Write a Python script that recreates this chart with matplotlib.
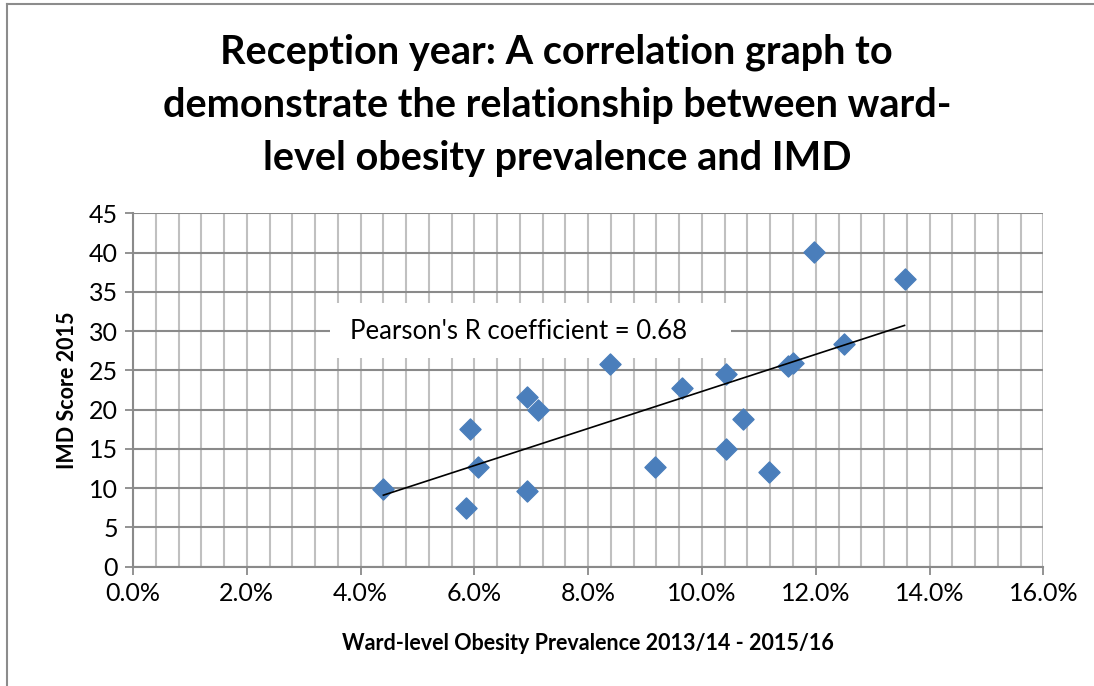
import numpy as np
import matplotlib
matplotlib.use('Agg')
import matplotlib.pyplot as plt
import matplotlib.ticker as mticker
from matplotlib.lines import Line2D
from matplotlib.patches import Rectangle

# ward-level obesity prevalence (%) and IMD score
prevalence = [4.40, 5.85, 5.92, 6.06, 6.92, 6.92, 7.11, 8.38, 9.17, 9.65,
              10.43, 10.43, 10.72, 11.18, 11.51, 11.60, 11.97, 12.50, 13.56]
imd_score = [9.9, 7.5, 17.5, 12.7, 21.6, 9.7, 19.9, 25.8, 12.7, 22.8,
             24.5, 15.0, 18.8, 12.0, 25.5, 26.0, 40.1, 28.4, 36.6]

title = ("Reception year: A correlation graph to\n"
         "demonstrate the relationship between ward-\n"
         "level obesity prevalence and IMD")
pearson_label = "Pearson's R coefficient = 0.68"

plt.rcParams['font.family'] = ['Lato', 'DejaVu Sans']

fig = plt.figure(figsize=(10.94, 6.86), dpi=100, facecolor='white')
fig.patch.set_edgecolor('none')
fig.patch.set_linewidth(0)
ax = fig.add_axes([0.1216, 0.1739, 0.8321, 0.5152])

# chart frame (left and top edges are visible in the crop)
fig.add_artist(Line2D([7/1094, 7/1094], [0, 1 - 4/686], transform=fig.transFigure,
                      color='#8c8c8c', lw=1.5))
fig.add_artist(Line2D([7/1094, 1], [1 - 4/686, 1 - 4/686], transform=fig.transFigure,
                      color='#8c8c8c', lw=1.5))

ax.set_xlim(0, 16)
ax.set_ylim(0, 45)

ax.xaxis.set_major_locator(mticker.MultipleLocator(2))
ax.xaxis.set_minor_locator(mticker.MultipleLocator(0.4))
ax.yaxis.set_major_locator(mticker.MultipleLocator(5))
ax.xaxis.set_major_formatter(mticker.FuncFormatter(lambda v, p: '%.1f%%' % v))

ax.grid(True, axis='x', which='both', color='#c0c0c0', lw=1.5, zorder=0)
ax.grid(True, axis='y', which='major', color='#8a8a8a', lw=1.5, zorder=0)
ax.set_axisbelow(True)

for side in ['top', 'right']:
    ax.spines[side].set_visible(False)
for side in ['left', 'bottom']:
    ax.spines[side].set_color('#8a8a8a')
    ax.spines[side].set_linewidth(1.5)

ax.tick_params(axis='both', which='major', direction='out', length=6, width=1.3,
               color='#8a8a8a', labelsize=18, labelcolor='black', pad=5)
ax.tick_params(axis='x', which='minor', length=0)

# scatter points
ax.scatter(prevalence, imd_score, marker='D', s=115, color='#4a7ebb',
           edgecolors='#4a7ebb', zorder=3)

# linear trend line over the data range
slope, intercept = np.polyfit(prevalence, imd_score, 1)
xs = np.array([min(prevalence), max(prevalence)])
ax.plot(xs, slope * xs + intercept, color='black', lw=1.2, zorder=4)

# white label box covering the grid
ax.add_patch(Rectangle((3.46, 26.6), 7.05, 7.0, facecolor='white',
                       edgecolor='none', zorder=2))
ax.text(3.81, 30, pearson_label, fontsize=18.5, va='center', ha='left', zorder=5)

ax.set_xlabel('Ward-level Obesity Prevalence 2013/14 - 2015/16', fontsize=15.5,
              fontweight='bold', labelpad=20)
ax.set_ylabel('IMD Score 2015', fontsize=15.5, fontweight='bold', labelpad=8)

fig.text(0.509, 0.846, title, ha='center', va='center', fontsize=28.5,
         fontweight='bold', linespacing=1.53)

fig.savefig('out.png', dpi=100, facecolor='white')
